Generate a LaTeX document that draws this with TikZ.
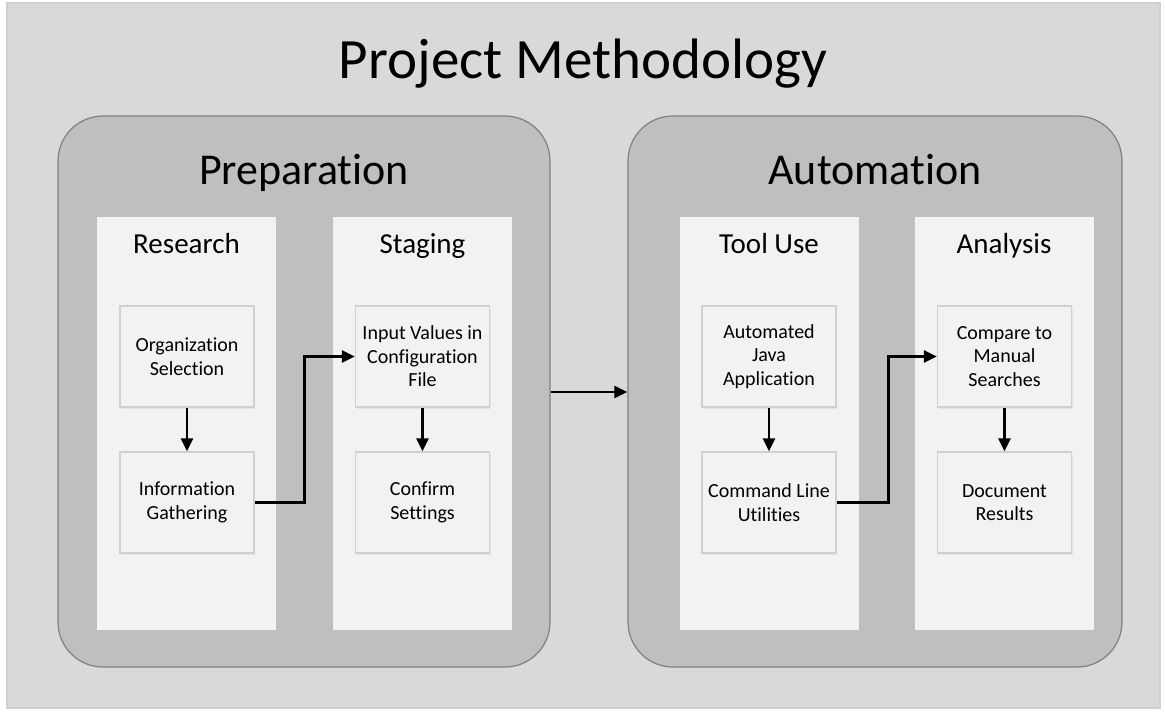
\documentclass[tikz,border=0pt]{standalone}
\usepackage{fontspec}
\setmainfont{Carlito}[Ligatures=NoCommon]
\usetikzlibrary{arrows.meta,shadows}

\definecolor{sfondo}{HTML}{D9D9D9}
\definecolor{fase}{HTML}{BFBFBF}
\definecolor{bordofase}{HTML}{808080}
\definecolor{pannello}{HTML}{F2F2F2}
\definecolor{bordobox}{HTML}{D0D0D0}

\tikzset{
    fasebox/.style={draw=bordofase, line width=1.2pt, fill=fase, rounded corners=45pt,
        minimum width=492pt, minimum height=551pt},
    colonna/.style={fill=pannello, minimum width=179pt, minimum height=413pt},
    passo/.style={draw=bordobox, line width=1.2pt, fill=pannello, minimum width=134pt,
        minimum height=101pt, align=center, font=\fontsize{20}{23.5}\selectfont,
        drop shadow={opacity=0.12, shadow xshift=1pt, shadow yshift=-2pt}},
    freccia/.style={-{Triangle[length=13pt, width=12pt]}, line width=2.6pt},
}

\begin{document}
\begin{tikzpicture}[x=1pt, y=-1pt]

    \useasboundingbox (0,0) rectangle (1165,712);

    % -- Sfondo e titolo --
    \fill[sfondo, draw=bordobox, line width=1.2pt] (7,3) rectangle (1160,708);
    \node[anchor=base] (titolo) at (583,78) {\fontsize{57}{60}\selectfont Project Methodology};

    % -- Le due fasi --
    \node[fasebox] (prep) at (304,391.5) {};
    \node[fasebox, minimum width=494pt] (auto) at (875,391.5) {};
    \node[anchor=base] (tprep) at (304,184) {\fontsize{44}{48}\selectfont Preparation};
    \node[anchor=base] (tauto) at (875,184) {\fontsize{44}{48}\selectfont Automation};

    % -- Colonne --
    \node[colonna] (research) at (186.5,423.5) {};
    \node[colonna] (staging) at (422.5,423.5) {};
    \node[colonna] (tooluse) at (769,423.5) {};
    \node[colonna] (analysis) at (1004,423.5) {};

    \def\intesta#1#2{%
        \node[anchor=base] (t#1) at (#1.north |- 0,253) {\fontsize{29}{32}\selectfont #2};%
    }
    \intesta{research}{Research}
    \intesta{staging}{Staging}
    \intesta{tooluse}{Tool Use}
    \intesta{analysis}{Analysis}

    % -- Passi --
    \node[passo] (org) at (187,356.5) {Organization\\Selection};
    \node[passo] (info) at (187,502.5) {Information\\Gathering};
    \node[passo] (input) at (422.5,356.5) {Input Values in\\Configuration\\File};
    \node[passo] (confirm) at (422.5,502.5) {Confirm\\Settings};
    \node[passo] (java) at (769,356.5) {Automated\\Java\\Application};
    \node[passo] (cmd) at (769,502.5) {Command Line\\Utilities};
    \node[passo] (compare) at (1004.5,356.5) {Compare to\\Manual\\Searches};
    \node[passo] (doc) at (1004.5,502.5) {Document\\Results};

    % -- Frecce --
    \draw[freccia] (org) -- (info);
    \draw[freccia] (input) -- (confirm);
    \draw[freccia] (java) -- (cmd);
    \draw[freccia] (compare) -- (doc);

    \draw[freccia] (info.east) -- ++(50,0) |- (input.west);
    \draw[freccia] (cmd.east) -- ++(52,0) |- (compare.west);

    \draw[freccia] (prep.east |- 0,392) -- (auto.west |- 0,392);
\end{tikzpicture}
\end{document}
